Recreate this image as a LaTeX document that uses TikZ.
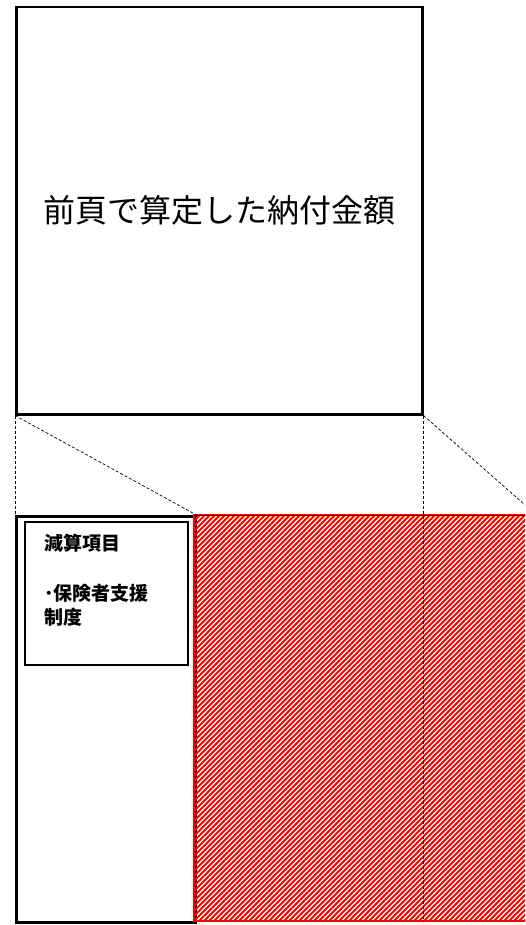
\documentclass[tikz,border=0pt]{standalone}
\usepackage{fontspec}
\newfontfamily\jpfont{Noto Sans CJK JP}

\begin{document}
\begin{tikzpicture}[x=1pt,y=-1pt,
	box/.style={draw,line width=2.5pt,inner sep=0pt,anchor=north west},
	helper/.style={dashed,line width=0.7pt,dash pattern=on 3pt off 2pt},
	hatch/.style={hatchred,line width=2pt}]
	\definecolor{hatchred}{HTML}{FF0000}
	\useasboundingbox (0,0) rectangle (525,925);
	\clip (0,0) rectangle (525,925);
	\fill[white] (0,0) rectangle (525,925);

	% amount from the previous page
	\node[box,minimum width=406pt,minimum height=407pt,
		font={\jpfont\fontsize{32}{38}\selectfont}] (total) at (15,6)
		{前頁で算定した納付金額};

	% lower part
	\node[box,minimum width=179pt,minimum height=406pt] (deduct) at (15,515) {};
	\node[inner sep=0pt,anchor=north west,
		minimum width=345pt,minimum height=406pt] (remain) at (194,515) {};
	\begin{scope}
		\clip (remain.north west) rectangle (remain.south east);
		\foreach \i in {-216,-211,...,540}
			\draw[hatch] (\i,921) -- ++(406,-406);
	\end{scope}
	\draw[hatchred,line width=2pt] (remain.north west) rectangle (remain.south east);
	\draw[line width=1pt] (remain.north west) -- (remain.north east);
	\node[draw,line width=1.8pt,inner sep=0pt,anchor=north west,
		minimum width=163pt,minimum height=143pt] (items) at (24,521) {};

	% labels
	\node[anchor=north west,align=left,inner sep=0pt,
		font={\jpfont\bfseries\fontsize{19}{24}\selectfont}] (itemtext) at ([shift={(20,13)}]items.north west)
		{減算項目\\[26pt]･保険者支援\\制度};

	% dashed guides
	\coordinate (edge) at (525,505);
	\draw[helper] (total.south west) -- (deduct.north west);
	\draw[helper] (total.south west) -- (deduct.north east);
	\draw[helper] (total.south east) -- (total.south east |- remain.south);
	\draw[helper] (total.south east) -- (edge);
\end{tikzpicture}
\end{document}
